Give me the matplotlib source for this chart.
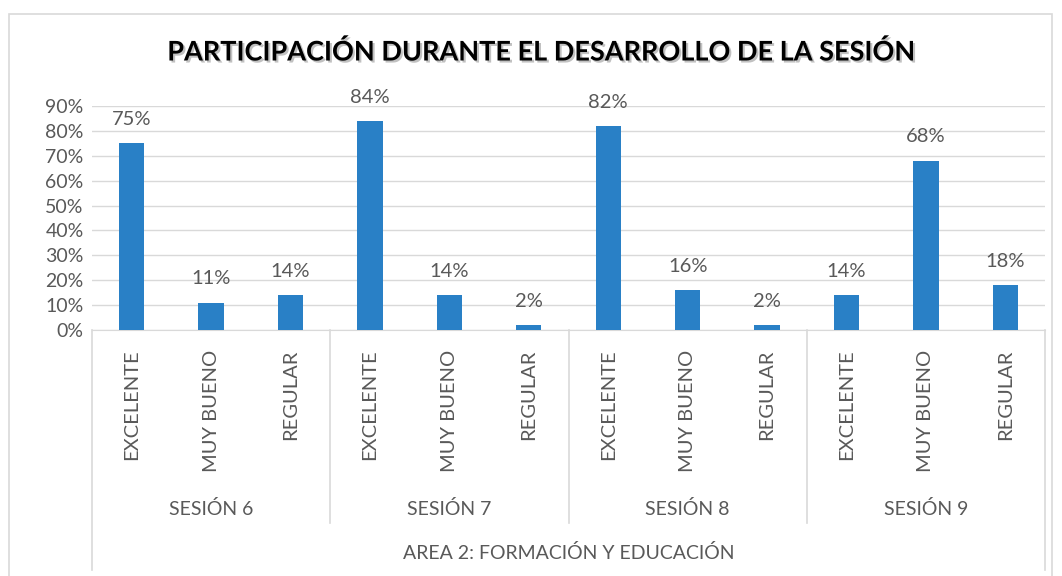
import numpy as np
import matplotlib.pyplot as plt
from matplotlib.patches import Rectangle
import matplotlib.patheffects as pe

# datos
sesiones = ["SESIÓN 6", "SESIÓN 7", "SESIÓN 8", "SESIÓN 9"]
niveles = ["EXCELENTE", "MUY BUENO", "REGULAR"]
valores = [0.75, 0.11, 0.14,
           0.84, 0.14, 0.02,
           0.82, 0.16, 0.02,
           0.14, 0.68, 0.18]
area = "AREA 2: FORMACIÓN Y EDUCACIÓN"
titulo = "PARTICIPACIÓN DURANTE EL DESARROLLO DE LA SESIÓN"

plt.rcParams["font.family"] = ["Lato", "DejaVu Sans"]
gris = "#595959"
azul = "#2980C6"
linea = "#D9D9D9"

W, H = 1062, 576
fig = plt.figure(figsize=(W / 100, H / 100), dpi=100)
fig.patch.set_facecolor("white")

x0, x1, yb, yt = 92, 1045, 330, 106
ax = fig.add_axes([x0 / W, 1 - yb / H, (x1 - x0) / W, (yb - yt) / H])

etiquetas = niveles * len(sesiones)
x = np.arange(len(valores))
barras = ax.bar(x, valores, width=0.32, color=azul, zorder=3)
ax.set_xlim(-0.5, len(valores) - 0.5)
ax.set_ylim(0, 0.9)
ax.set_yticks(np.arange(0, 0.91, 0.1))
ax.set_yticklabels([f"{int(round(v * 100))}%" for v in np.arange(0, 0.91, 0.1)],
                   fontsize=14, color=gris)
ax.grid(axis="y", color=linea, lw=1, zorder=0)
ax.set_xticks(x)
ax.set_xticklabels(etiquetas, rotation=90, fontsize=14.5, color=gris, va="top")
ax.tick_params(axis="x", length=0, pad=14)
ax.tick_params(axis="y", length=0, pad=6)
for s in ["top", "right", "left"]:
    ax.spines[s].set_visible(False)
ax.spines["bottom"].set_color(linea)

for b, v in zip(barras, valores):
    ax.annotate(f"{int(round(v * 100))}%", (b.get_x() + b.get_width() / 2, v),
                xytext=(0, 11), textcoords="offset points", ha="center", va="bottom",
                fontsize=14.5, color=gris)

# lineas de separacion de grupos y etiquetas de sesion
tr = ax.get_xaxis_transform()
alto = yb - yt
def ay(py):
    return (yb - py) / alto

n = len(niveles)
for i in range(len(sesiones) + 1):
    xs = i * n - 0.5
    bajo = ay(570) if i in (0, len(sesiones)) else ay(523)
    ax.plot([xs, xs], [0, bajo], transform=tr, color=linea, lw=1.2, clip_on=False)
for i, s in enumerate(sesiones):
    ax.text(i * n + 1, ay(509), s, transform=tr, ha="center", va="center",
            fontsize=14, color=gris)
ax.text((len(valores) - 1) / 2, ay(553), area, transform=tr, ha="center", va="center",
        fontsize=14, color=gris)

fig.text(541 / W, 1 - 52 / H, titulo, ha="center", va="center", fontsize=19.5,
         fontweight="bold", color="black",
         path_effects=[pe.withSimplePatchShadow(offset=(1.5, -1.5), shadow_rgbFace="#999999", alpha=0.6)])

fig.patches.append(Rectangle((9 / W, -0.05), 1043 / W, 1 - 14 / H + 0.05,
                             transform=fig.transFigure, fill=False, edgecolor=linea, lw=1.2))

fig.savefig("out.png", dpi=100)
